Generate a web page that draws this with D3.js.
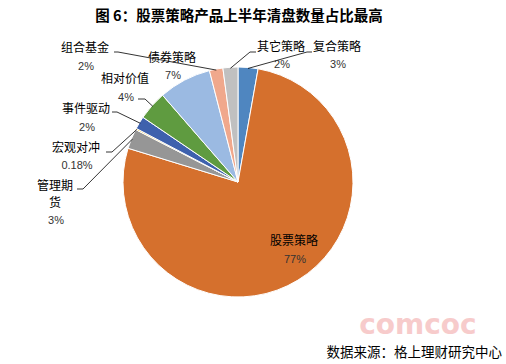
<!DOCTYPE html>
<html>
<head>
<meta charset="utf-8">
<script src="https://cdn.jsdelivr.net/npm/d3@7"></script>
<style>
  body { margin: 0; background: #fff; }
  svg { display: block; font-family: "Noto Sans CJK SC", "Microsoft YaHei", sans-serif; }
</style>
</head>
<body>
<div id="chart"></div>
<script>
// strategy categories, clockwise from 12 o'clock
const categories = ["复合策略", "股票策略", "管理期货", "宏观对冲", "事件驱动", "相对价值", "债券策略", "组合基金", "其它策略"];
// share of funds liquidated (%)
const values = [2.8, 77.0, 2.8, 0.18, 1.8, 4.1, 7.4, 1.9, 2.1];
// percentage labels as printed
const pctLabels = ["3%", "77%", "3%", "0.18%", "2%", "4%", "7%", "2%", "2%"];

const colors = ["#4f86c0", "#d5702d", "#969696", "#f0b400", "#3e61ad", "#5f9b40", "#9bbae2", "#f0a88c", "#c0c0c0"];

// label layout: name lines, centre x, baselines, leader line start
const labelLayout = {
    "复合策略": { lines: ["复合策略"], x: 337, y: 51, py: 68, lead: [[312, 52], [307, 52]] },
    "其它策略": { lines: ["其它策略"], x: 281, y: 51, py: 68, lead: [[256, 52], [250, 52]] },
    "组合基金": { lines: ["组合基金"], x: 85, y: 52, py: 70, lead: [[114, 52], [118, 52]] },
    "债券策略": { lines: ["债券策略"], x: 172, y: 62, py: 79, lead: null },
    "相对价值": { lines: ["相对价值"], x: 125, y: 83, py: 101, lead: [[138, 99], [145, 99]] },
    "事件驱动": { lines: ["事件驱动"], x: 86, y: 113, py: 131, lead: [[112, 112], [117, 112]] },
    "宏观对冲": { lines: ["宏观对冲"], x: 76, y: 152, py: 169, lead: [[106, 152], [112, 152]] },
    "管理期货": { lines: ["管理期", "货"], x: 55, y: 190, py: 224, lead: [[77, 189], [83, 189]] },
    "股票策略": { lines: ["股票策略"], x: 294, y: 245, py: 263, lead: null }
};

const width = 506, height = 364;
const cx = 238, cy = 182, radius = 115;

const svg = d3.select("#chart").append("svg")
    .attr("width", width)
    .attr("height", height);

svg.append("rect").attr("width", width).attr("height", height).attr("fill", "#fff");

// title
svg.append("text")
    .attr("x", 239)
    .attr("y", 21)
    .attr("text-anchor", "middle")
    .style("font-size", "14.5px")
    .style("font-weight", "bold")
    .attr("fill", "#000")
    .text("图 6：股票策略产品上半年清盘数量占比最高");

const data = categories.map((c, i) => ({ name: c, value: values[i], pct: pctLabels[i], color: colors[i] }));

const pie = d3.pie().sort(null).value(d => d.value);
const arcs = pie(data);
const arc = d3.arc().innerRadius(0).outerRadius(radius);

const g = svg.append("g").attr("transform", `translate(${cx},${cy})`);

g.selectAll("path.slice")
    .data(arcs)
    .enter()
    .append("path")
    .attr("class", "slice")
    .attr("d", arc)
    .attr("fill", d => d.data.color)
    .attr("stroke", "#fff")
    .attr("stroke-width", 1);

// leader lines
arcs.forEach(d => {
    const lay = labelLayout[d.data.name];
    if (!lay.lead) return;
    const a = (d.startAngle + d.endAngle) / 2;
    const end = [cx + (radius - 1) * Math.sin(a), cy - (radius - 1) * Math.cos(a)];
    const pts = lay.lead.concat([end]);
    svg.append("path")
        .attr("d", d3.line()(pts))
        .attr("fill", "none")
        .attr("stroke", "#000")
        .attr("stroke-width", 0.8);
});

// labels
arcs.forEach(d => {
    const lay = labelLayout[d.data.name];
    const t = svg.append("g");
    lay.lines.forEach((ln, i) => {
        t.append("text")
            .attr("x", lay.x)
            .attr("y", lay.y + i * 17)
            .attr("text-anchor", "middle")
            .style("font-size", "12px")
            .attr("fill", "#000")
            .text(ln);
    });
    t.append("text")
        .attr("x", lay.x + 1)
        .attr("y", lay.py)
        .attr("text-anchor", "middle")
        .style("font-size", "11px")
        .style("font-family", "'Liberation Sans', Arial, sans-serif")
        .attr("fill", "#333")
        .text(d.data.pct);
});

// watermark
svg.append("text")
    .attr("x", 418)
    .attr("y", 334)
    .attr("text-anchor", "middle")
    .style("font-size", "28px")
    .style("font-weight", "bold")
    .style("font-family", "'DejaVu Sans', sans-serif")
    .attr("fill", "#f6c3c3")
    .attr("opacity", 0.85)
    .text("comcoc");

// source
svg.append("text")
    .attr("x", 502)
    .attr("y", 357)
    .attr("text-anchor", "end")
    .style("font-size", "13.5px")
    .attr("fill", "#000")
    .text("数据来源：格上理财研究中心");
</script>
</body>
</html>
